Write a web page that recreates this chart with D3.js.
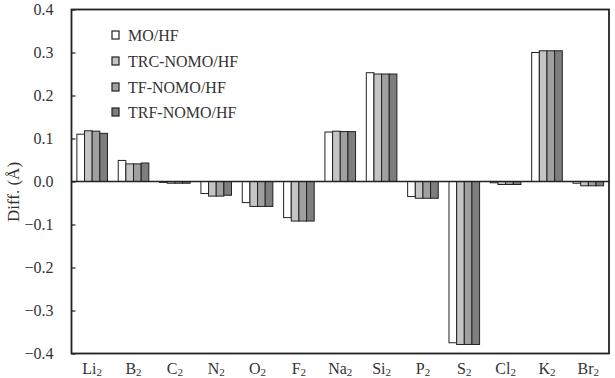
<!DOCTYPE html>
<html><head><meta charset="utf-8">
<script src="https://cdn.jsdelivr.net/npm/d3@7"></script>
<style>body{margin:0;background:#fff}svg{display:block}text{font-family:"Liberation Serif","Times New Roman",serif;fill:#333}</style>
</head><body>
<svg id="c" width="615" height="378"></svg>
<script>
const categories = ["Li2","B2","C2","N2","O2","F2","Na2","Si2","P2","S2","Cl2","K2","Br2"];
const seriesNames = ["MO/HF","TRC-NOMO/HF","TF-NOMO/HF","TRF-NOMO/HF"];
const moHF    = [0.110, 0.049, -0.002, -0.028, -0.049, -0.084, 0.115, 0.253, -0.035, -0.375, -0.003, 0.300, -0.004];
const trcNOMO = [0.118, 0.041, -0.004, -0.034, -0.058, -0.092, 0.117, 0.250, -0.039, -0.379, -0.007, 0.304, -0.010];
const tfNOMO  = [0.117, 0.041, -0.004, -0.034, -0.058, -0.092, 0.116, 0.250, -0.039, -0.379, -0.007, 0.304, -0.010];
const trfNOMO = [0.112, 0.043, -0.004, -0.032, -0.058, -0.092, 0.116, 0.250, -0.039, -0.379, -0.007, 0.304, -0.010];
const yTicks = [-0.4,-0.3,-0.2,-0.1,0.0,0.1,0.2,0.3,0.4];
const colors = ["#ffffff","#c4c4c4","#a0a0a0","#7e7e7e"];
const series = [moHF, trcNOMO, tfNOMO, trfNOMO];

const svg = d3.select("#c");
const L = 71.5, R = 609, T = 9.5, B = 353.5;
const x = d3.scaleBand().domain(categories).range([L, R]).paddingInner(0.26).paddingOuter(0.13);
const xs = d3.scaleBand().domain(seriesNames).range([0, x.bandwidth()]);
const y = d3.scaleLinear().domain([-0.4, 0.4]).range([B, T]);

// bars
const g = svg.append("g");
series.forEach((vals, si) => {
  g.selectAll(null).data(vals).enter().append("rect")
    .attr("x", (d, i) => x(categories[i]) + xs(seriesNames[si]))
    .attr("width", xs.bandwidth())
    .attr("y", d => y(Math.max(0, d)))
    .attr("height", d => Math.abs(y(d) - y(0)))
    .attr("fill", colors[si]).attr("stroke", "#222").attr("stroke-width", 1);
});

// zero line
svg.append("line").attr("x1", L).attr("x2", R).attr("y1", y(0)).attr("y2", y(0))
  .attr("stroke", "#222").attr("stroke-width", 1.5);

// y axis
const yAxis = d3.axisLeft(y).tickValues(yTicks).tickSize(-4).tickPadding(18).tickFormat(d3.format(".1f"));
const ya = svg.append("g").attr("transform", `translate(${L},0)`).call(yAxis);
ya.select(".domain").remove();
ya.selectAll(".tick line").attr("stroke", "#222").attr("stroke-width", 1.2);
ya.selectAll(".tick text").style("font-family", '"Liberation Serif",serif').style("font-size", "16px").attr("fill", "#333");

// frame
svg.append("rect").attr("x", L).attr("y", T).attr("width", R - L).attr("height", B - T)
  .attr("fill", "none").attr("stroke", "#222").attr("stroke-width", 1.8);

// x labels
const xa = svg.append("g");
categories.forEach(c => {
  const m = c.match(/^([A-Za-z]+)(\d)$/);
  const t = xa.append("text").attr("x", x(c) + x.bandwidth() / 2).attr("y", 374)
    .attr("text-anchor", "middle").style("font-size", "16px");
  t.append("tspan").text(m[1]);
  t.append("tspan").text(m[2]).style("font-size", "11px").attr("dy", 2);
});

// y title
svg.append("text").attr("transform", "translate(19,192) rotate(-90)").attr("text-anchor", "middle")
  .style("font-size", "17px").text("Diff. (Å)");

// legend
const lg = svg.append("g");
const rowY = [35, 61, 87, 112];
seriesNames.forEach((n, i) => {
  lg.append("rect").attr("x", 112).attr("y", rowY[i] - 4).attr("width", 7).attr("height", 8)
    .attr("fill", colors[i]).attr("stroke", "#222").attr("stroke-width", 1.2);
  lg.append("text").attr("x", 128).attr("y", rowY[i] + 5.5).style("font-size", "16px").text(n);
});
</script>
</body></html>
